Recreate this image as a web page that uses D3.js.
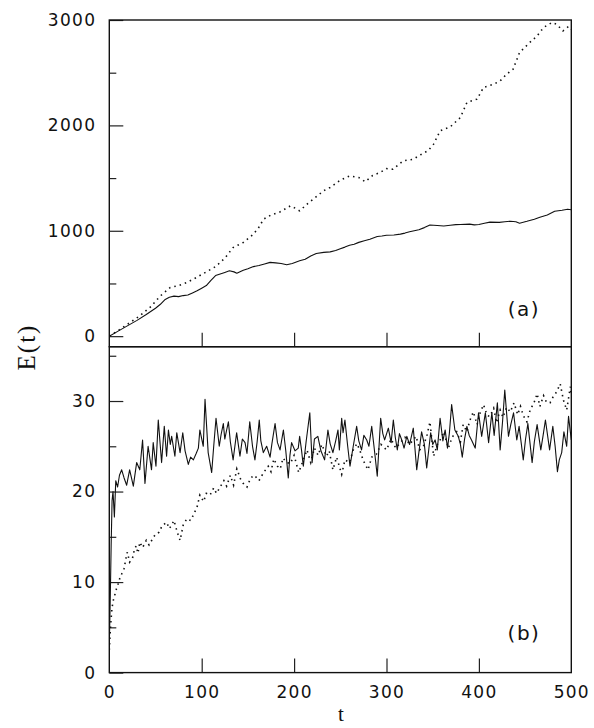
<!DOCTYPE html>
<html>
<head>
<meta charset="UTF-8">
<title>E(t)</title>
<style>
  body { margin: 0; background: #fff; }
  .tick text { font-family: "DejaVu Sans", sans-serif; font-size: 17px; letter-spacing: 1.3px; fill: #111; }
</style>
</head>
<body>
<script src="https://cdn.jsdelivr.net/npm/d3@7/dist/d3.min.js"></script>
<script>
// panel (a): energy growth
var tSolidA = [0,10,20,30,40,50,55,60,65,70,75,80,85,90,95,100,105,110,115,120,125,130,135,138,145,150,156,162,168,174,180,186,192,198,206,212,218,224,232,239,245,250,255,260,265,270,276,282,290,295,300,308,315,320,325,335,341,347,355,362,369,375,380,390,395,400,406,412,422,428,434,440,444,452,460,466,474,482,490,496,500];
var eSolidA = [0,50,100,150,205,265,300,345,370,380,375,385,390,410,430,455,480,530,575,590,605,620,610,598,625,640,660,670,685,700,695,690,677,690,715,730,760,785,795,800,812,830,845,863,872,890,905,920,945,950,958,960,968,978,990,1010,1030,1055,1050,1045,1053,1058,1060,1063,1056,1060,1072,1082,1080,1086,1091,1085,1072,1090,1110,1129,1150,1186,1195,1205,1200];
var tDotA = [0,10,20,33,45,55,66,75,84,95,105,115,125,134,145,155,161,167,175,185,196,201,206,215,225,232,239,250,260,270,277,285,293,300,307,318,329,336,345,351,358,369,380,387,398,405,416,423,430,437,444,455,463,470,479,484,491,497,500];
var eDotA = [0,55,115,193,280,380,462,480,509,560,610,660,740,841,889,960,1020,1110,1150,1180,1236,1215,1189,1260,1330,1380,1411,1480,1520,1505,1465,1525,1553,1590,1584,1663,1679,1717,1760,1822,1948,1986,2075,2217,2249,2360,2391,2422,2486,2533,2691,2786,2849,2929,2976,2960,2897,2938,2910];

// panel (b): fluctuating energy
var tSolidB = [0,1,2,3,4,5.5,7,9,11,13.4,16,18.8,22,24,26,29.6,33,36,38.6,42,45.7,47.5,50.5,53,56.6,59.5,62,64,66,67.5,71,73,76.6,79.5,82,85.5,88,91,94,96.4,98,101.7,103.6,107,110.8,113,115.5,119,121,123.4,125,127,128.9,131,134,137.8,141.4,144,146.9,149,152,155,157.6,160,162.3,164,166.7,170.3,174,176,179.4,182,184.8,188.4,191,193.7,195.5,197.3,201,204.5,206,208,210,213,217,219.5,222,225.7,229,233,236.6,239,242,245,247.5,249,251.5,253,255,258,260.5,264,267.7,270,273,275.5,278.6,281,284,287,290,293.7,296,298,302,305,307.4,309.5,311.7,314,316.5,319,322,325,329,332.7,335,338,341,343.5,347.8,350,352.6,355,358,361,363.5,366,368,370.5,374,377.7,380,382,384.5,387,389.5,392,396,399.6,403,407,410.5,414,416.5,420,423,425.5,428,432,434.5,437.5,441,443.5,446,448,450.5,453,457.6,460,463,467,469.5,472,476.5,480,482.5,485,487,489.6,492,495,497,500];
var eSolidB = [3,8,14,19,20,17.2,21.2,20.5,21.8,22.4,21.5,20.7,22.4,21.5,20.6,23.2,22.4,25.7,20.9,25.0,22.4,25.4,22.8,27.9,23.2,27.2,23.9,26.8,25.2,26.1,23.9,26.5,24.3,26.5,24.5,23.0,23.8,23.5,24.2,24.8,26.8,25.0,30.2,24.3,22.1,25.0,28.1,25.0,26.3,27.5,25.8,26.8,27.7,25.5,23.5,26.5,23.9,25.8,25.4,24.2,27.7,25.0,23.5,25.5,27.9,25.6,24.3,25.0,23.8,25.3,27.5,25.4,24.6,26.8,24.5,21.5,24.0,25.4,24.5,24.8,26.1,24.6,22.8,25.5,28.7,23.2,25.8,26.1,24.5,23.5,26.8,25.3,24.3,25.6,26.8,24.6,28.1,26.5,27.9,25.0,22.8,25.0,27.2,25.6,24.6,26.2,25.7,25.0,27.2,24.5,21.7,28.1,26.4,25.7,27.0,25.4,27.9,26.0,24.6,26.4,25.7,24.8,26.1,25.2,27.0,22.4,24.3,26.6,25.2,22.6,26.5,25.2,25.7,24.6,28.1,25.6,26.8,24.8,26.4,29.6,26.8,26.1,25.2,23.8,25.8,27.2,26.2,25.7,24.8,28.7,26.1,28.7,25.4,28.7,26.2,29.8,24.6,27.6,31.2,26.1,27.4,28.7,25.7,27.2,25.2,23.5,25.8,27.5,23.2,25.5,27.4,24.6,26.2,27.9,24.6,27.2,25.0,22.2,23.5,24.3,26.6,25.0,28.3,25.7];
var tDotB = [0,1,2,3,4.4,6,7.6,9,11,13,16,18,19.5,22,25,27,29,31,33,36,40,43,47,50,54,57,62,65,67.5,70,73,76.6,80,84,88,91,95,98,102,105,109,113,116,120,124,127,131,134.5,138,142,145,149,153,157,162,167,172,175,178,182,185,188,192,196,200,205,210,214,218,222,226,230,235,238,242,246,251.5,255,260,264,268,271,275,280,284,289,294,300,305,310,315,320,325,332,336,340,344,347,351,355,358,362,367,371,376,380,383,387,390,394,398,401,405,409,412,416,419,423,426,430,434,438,442,445,448,452,456,459,463,466,470,473,477,480,484,488,491.5,495,497,499,500];
var eDotB = [2.5,4.5,6,7.2,8.0,8.6,9.2,9.6,10.3,10.8,11.5,12.6,13.3,12.2,12.6,13.5,14.0,13.2,14.4,13.8,14.6,14.1,14.8,15.3,15.5,16.2,16.6,15.9,16.3,16.8,15.7,14.6,16.3,17.0,16.8,17.4,18.3,19.6,18.9,19.8,19.6,20.4,19.8,20.5,21.2,20.6,21.8,20.7,22.5,21.4,20.9,20.5,21.5,21.8,21.2,22.1,22.8,22.2,23.6,22.8,22.5,23.7,23.2,23.1,24.0,22.1,23.5,24.6,23.2,24.8,24.0,25.2,23.9,24.5,22.4,23.8,21.9,23.5,23.2,24.6,25.3,24.6,23.4,22.4,23.8,24.1,25.2,24.6,25.8,24.8,25.4,26.0,25.2,26.1,24.6,25.0,26.3,27.7,23.9,25.2,25.7,26.6,24.8,26.0,26.6,25.5,27.4,26.6,27.8,28.8,27.4,28.6,29.6,28.4,28.3,29.2,27.6,29.0,28.2,29.3,28.8,29.8,28.5,29.4,28.4,27.7,29.2,29.6,30.8,29.4,30.6,29.9,29.8,30.4,31.0,31.9,30.1,29.0,30.3,31.6,30.5];

var xTicks = [0,100,200,300,400,500];
var yTicksA = [0,1000,2000,3000];
var yTicksB = [0,10,20,30];

var width = 594, height = 728;
var left = 109.3, right = 571.3;
var topA = 20, mid = 346.7, bottomB = 672.6;

var svg = d3.select("body").append("svg")
    .attr("width", width)
    .attr("height", height);

var x = d3.scaleLinear().domain([0, 500]).range([left, right]);
var yA = d3.scaleLinear().domain([-100, 3000]).range([mid, topA]);
var yB = d3.scaleLinear().domain([0, 36]).range([bottomB, mid]);

// clip each panel
var defs = svg.append("defs");
defs.append("clipPath").attr("id", "clipA").append("rect")
    .attr("x", left).attr("y", topA).attr("width", right - left).attr("height", mid - topA);
defs.append("clipPath").attr("id", "clipB").append("rect")
    .attr("x", left).attr("y", mid).attr("width", right - left).attr("height", bottomB - mid);

function styleAxis(g) {
    g.select(".domain").remove();
    g.selectAll(".tick line").attr("stroke", "#222").attr("stroke-width", 1.2);
}

// left axes, ticks pointing inward
svg.append("g").attr("transform", "translate(" + left + ",0)")
    .call(d3.axisLeft(yA).tickValues(yTicksA).tickSize(-14).tickPadding(13).tickFormat(d3.format("d")))
    .call(styleAxis);
svg.append("g").attr("transform", "translate(" + left + ",0)")
    .call(d3.axisLeft(yA).tickValues([500,1500,2500]).tickSize(-7).tickFormat(""))
    .call(styleAxis);
svg.append("g").attr("transform", "translate(" + left + ",0)")
    .call(d3.axisLeft(yB).tickValues(yTicksB).tickSize(-14).tickPadding(13))
    .call(styleAxis);
svg.append("g").attr("transform", "translate(" + left + ",0)")
    .call(d3.axisLeft(yB).tickValues([5,15,25,35]).tickSize(-7).tickFormat(""))
    .call(styleAxis);

// bottom axis of (a) without labels
svg.append("g").attr("transform", "translate(0," + mid + ")")
    .call(d3.axisBottom(x).tickValues([100,200,300,400]).tickSize(-14).tickFormat(""))
    .call(styleAxis);
// bottom axis of (b)
svg.append("g").attr("transform", "translate(0," + bottomB + ")")
    .call(d3.axisBottom(x).tickValues(xTicks).tickSize(-14).tickPadding(13))
    .call(styleAxis)
    .call(g => g.selectAll(".tick").filter(d => d === 0 || d === 500).select("line").remove());

// frames
[[topA, mid], [mid, bottomB]].forEach(function(p) {
    svg.append("rect")
        .attr("x", left).attr("y", p[0])
        .attr("width", right - left).attr("height", p[1] - p[0])
        .attr("fill", "none").attr("stroke", "#111").attr("stroke-width", 1.4);
});

function drawLine(ts, es, yScale, clip, dotted) {
    var pts = ts.map((t, i) => [t, es[i]]);
    var line = d3.line().x(d => x(d[0])).y(d => yScale(d[1]));
    var path = svg.append("path")
        .datum(pts)
        .attr("clip-path", "url(#" + clip + ")")
        .attr("fill", "none")
        .attr("stroke", "#111")
        .attr("d", line);
    if (dotted) {
        path.attr("stroke-width", 1.6).attr("stroke-dasharray", "1.5,4");
    } else {
        path.attr("stroke-width", 1.1).attr("stroke-linejoin", "round");
    }
}

drawLine(tDotA, eDotA, yA, "clipA", true);
drawLine(tSolidA, eSolidA, yA, "clipA", false);
drawLine(tDotB, eDotB, yB, "clipB", true);
drawLine(tSolidB, eSolidB, yB, "clipB", false);

// panel tags
svg.append("text").attr("x", 524).attr("y", 316)
    .attr("text-anchor", "middle")
    .style("font-family", "DejaVu Sans")
    .style("font-size", "20px").style("letter-spacing", "1.5px")
    .attr("fill", "#111").text("(a)");
svg.append("text").attr("x", 524).attr("y", 640)
    .attr("text-anchor", "middle")
    .style("font-family", "DejaVu Sans")
    .style("font-size", "20px").style("letter-spacing", "1.5px")
    .attr("fill", "#111").text("(b)");

// axis titles
svg.append("text")
    .attr("transform", "translate(35,347) rotate(-90)")
    .attr("text-anchor", "middle")
    .style("font-family", "Liberation Serif").style("font-size", "25px")
    .style("letter-spacing", "2px")
    .attr("fill", "#111").text("E(t)");
svg.append("text").attr("x", 341).attr("y", 721)
    .attr("text-anchor", "middle")
    .style("font-family", "Liberation Serif").style("font-size", "21px")
    .attr("fill", "#111").text("t");
</script>
</body>
</html>
